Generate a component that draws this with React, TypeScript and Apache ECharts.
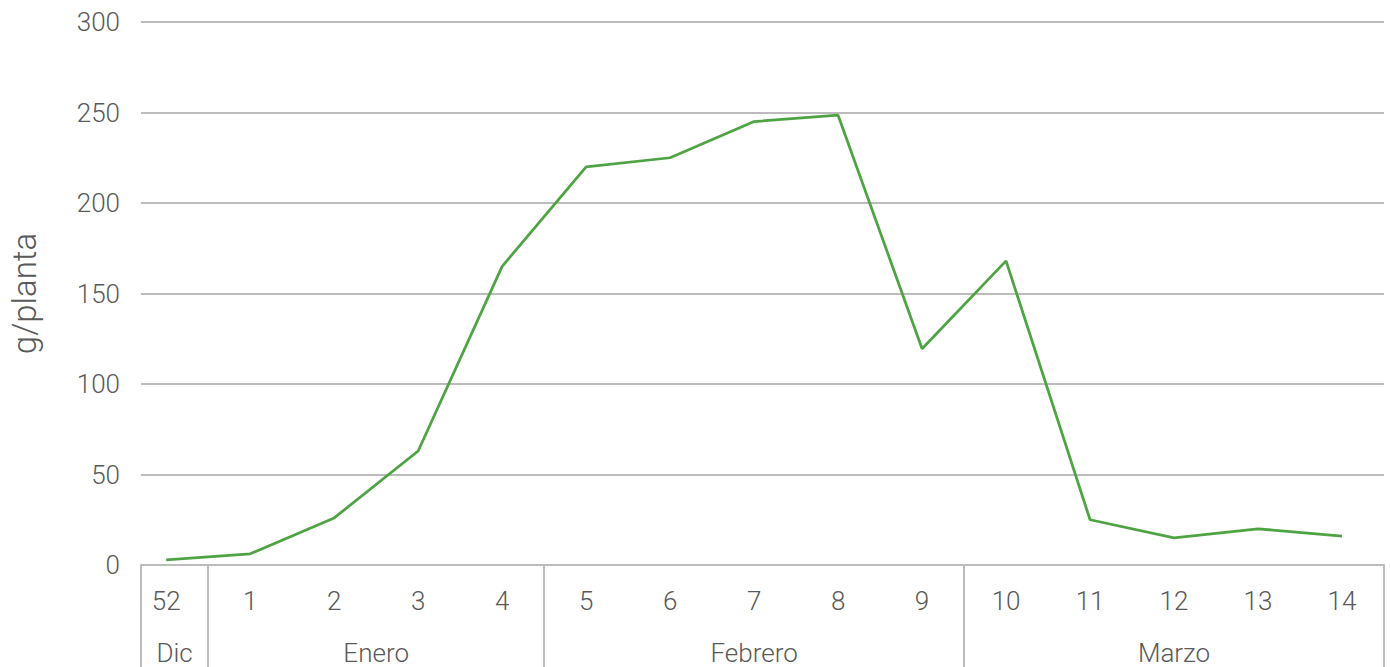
import React, { useEffect, useRef } from "react";
import * as echarts from "echarts";

const weeks = ["52", "1", "2", "3", "4", "5", "6", "7", "8", "9", "10", "11", "12", "13", "14"];
const values = [2.8, 6.2, 26, 63, 165, 220, 225, 245, 248.5, 119.5, 168, 25, 15, 20, 16];
const months = ["Dic", "Enero", "Febrero", "Marzo"];
const monthFirst = [0, 1, 5, 10];
const monthLast = [0, 4, 9, 14];
const yMin = 0;
const yMax = 300;
const yStep = 50;
const yName = "g/planta";

const FONT = "Roboto";
const W = 300;
const TEXT = "#595959";
const GRID = "#bcbcbc";

export default function App() {
  const ref = useRef<HTMLDivElement>(null);
  useEffect(() => {
    if (!ref.current) return;
    const chart = echarts.init(ref.current, null, { renderer: "svg" });
    const xMin = -0.3;
    const xMax = weeks.length - 0.5;
    const seps = [xMin, ...monthFirst.slice(1).map((f) => f - 0.5), xMax];
    const centers = months.map((_, k) => (Math.max(monthFirst[k] - 0.5, xMin) + monthLast[k] + 0.5) / 2);
    const weekIdx = weeks.map((_, i) => i);
    chart.setOption({
      animation: false,
      grid: { left: 140, right: 6, top: 22, bottom: 102, containLabel: false },
      xAxis: [
        {
          type: "value",
          min: xMin,
          max: xMax,
          position: "bottom",
          axisLine: { show: true, onZero: false, lineStyle: { color: GRID, width: 2 } },
          axisTick: { show: true, customValues: seps, length: 104, lineStyle: { color: GRID, width: 2 } },
          axisLabel: {
            customValues: weekIdx,
            formatter: (v: number) => weeks[Math.round(v)] ?? "",
            color: TEXT,
            fontFamily: FONT,
            fontWeight: W,
            fontSize: 26,
            margin: 23,
          },
          splitLine: { show: false },
        },
        {
          type: "value",
          min: xMin,
          max: xMax,
          position: "bottom",
          axisLine: { show: false },
          axisTick: { show: false },
          axisLabel: {
            customValues: centers,
            formatter: (v: number) => {
              const k = centers.findIndex((c) => Math.abs(c - v) < 1e-6);
              return k >= 0 ? months[k] : "";
            },
            color: TEXT,
            fontFamily: FONT,
            fontWeight: W,
            fontSize: 26,
            margin: 75,
          },
          splitLine: { show: false },
        },
      ],
      yAxis: {
        type: "value",
        min: yMin,
        max: yMax,
        interval: yStep,
        name: yName,
        nameLocation: "middle",
        nameGap: 100,
        nameTextStyle: { color: TEXT, fontFamily: FONT, fontWeight: W, fontSize: 33 },
        axisLine: { show: false },
        axisTick: { show: false },
        axisLabel: { color: TEXT, fontFamily: FONT, fontWeight: W, fontSize: 26, margin: 21 },
        splitLine: { lineStyle: { color: GRID, width: 2 } },
      },
      series: [
        {
          type: "line",
          xAxisIndex: 0,
          data: values.map((v, i) => [i, v]),
          showSymbol: false,
          symbol: "none",
          lineStyle: { color: "#4ea343", width: 2.75 },
          z: 3,
        },
      ],
    });
    return () => chart.dispose();
  }, []);
  return (
    <div
      ref={ref}
      style={{ position: "fixed", left: 0, top: 0, width: 1390, height: 667, background: "#fff" }}
    />
  );
}
